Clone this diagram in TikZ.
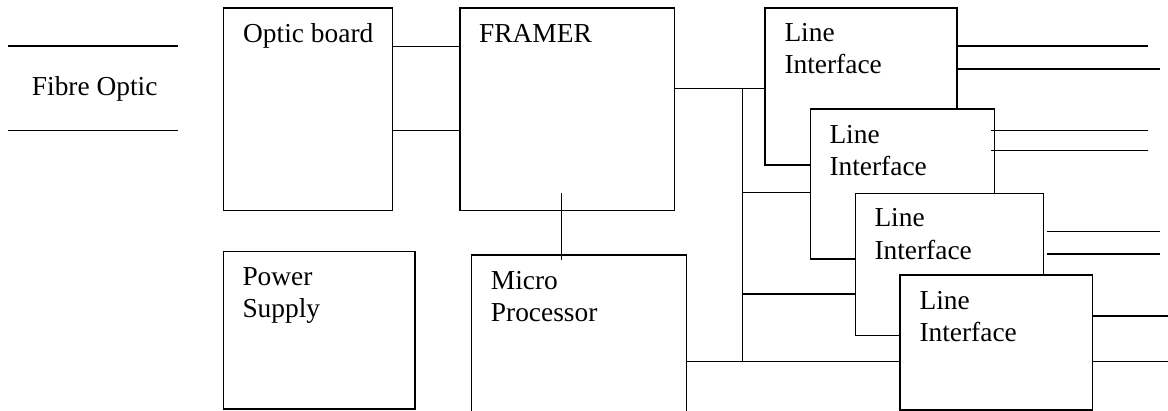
\documentclass[tikz,border=0pt]{standalone}
\usepackage{fontspec}
\setmainfont{Liberation Serif}
\begin{document}
\begin{tikzpicture}[x=1pt,y=-1pt,
  box/.style={draw, line width=1.25pt, fill=white, inner sep=0pt, anchor=north west},
  lbl/.style={font=\fontsize{27.4}{32.5}\selectfont, inner sep=0pt, anchor=base west, align=left},
  wire/.style={line width=1.25pt}]
\useasboundingbox (0,0) rectangle (1168,411);
\clip (0,0) rectangle (1168,411);
% y levels
\coordinate (ya) at (0,46.7);
\coordinate (yb) at (0,130.7);
\coordinate (yc) at (0,88.7);
\coordinate (yd) at (0,192.7);
\coordinate (ye) at (0,294);
\coordinate (yf) at (0,361.7);
% fibre optic
\coordinate (fo1a) at (8.3,46);
\coordinate (fo1b) at (178.3,46);
\coordinate (fo2a) at (8.3,130.3);
\coordinate (fo2b) at (178.3,130.3);
\draw[wire] (fo1a) -- (fo1b);
\draw[wire] (fo2a) -- (fo2b);
\node[lbl] (fot) at (31.7,95.7) {Fibre Optic};
% left boxes
\node[box, minimum width=169pt, minimum height=202.7pt] (ob) at (223,7.3) {};
\node[lbl] (obt) at (243,43) {Optic board};
\node[box, minimum width=214.7pt, minimum height=202.7pt] (fr) at (459.3,7.3) {};
\node[lbl] (frt) at (479,43) {FRAMER};
\node[box, minimum width=191.6pt, minimum height=157.6pt] (ps) at (222.7,250.7) {};
\node[lbl] (pst) at (242.3,317.8) {Power\\Supply};
\node[box, minimum width=214.7pt, minimum height=175pt] (mp) at (471,254.3) {};
\node[lbl] (mpt) at (490.7,321.7) {Micro\\Processor};
\draw[wire] (ob.east |- ya) -- (fr.west |- ya);
\draw[wire] (ob.east |- yb) -- (fr.west |- yb);
\coordinate (fm1) at (561.3,192.7);
\coordinate (fm2) at (561.3,260);
\draw[wire] (fm1) -- (fm2);
% line interfaces
\node[box, minimum width=192pt, minimum height=157pt] (li1) at (764.3,7.3) {};
\node[lbl] (li1t) at (784.3,74) {Line\\Interface};
\coordinate (r1a) at (1148.3,46);
\coordinate (r1b) at (1160,69);
\draw[wire] (li1.east |- r1a) -- (r1a);
\draw[wire] (li1.east |- r1b) -- (r1b);
\node[box, minimum width=184.5pt, minimum height=150pt] (li2) at (809.5,108.3) {};
\node[lbl] (li2t) at (829.3,175.7) {Line\\Interface};
\coordinate (r2a) at (1148.3,130.7);
\coordinate (r2b) at (1148.3,150.7);
\draw[wire] ([xshift=-4pt]li2.east |- r2a) -- (r2a);
\draw[wire] ([xshift=-4pt]li2.east |- r2b) -- (r2b);
\node[box, minimum width=188.2pt, minimum height=142.3pt] (li3) at (854.5,192.7) {};
\node[lbl] (li3t) at (874.3,259.3) {Line\\Interface};
\coordinate (r3a) at (1160,231.7);
\coordinate (r3b) at (1160,254);
\draw[wire] ([xshift=3pt]li3.east |- r3a) -- (r3a);
\draw[wire] ([xshift=3pt]li3.east |- r3b) -- (r3b);
\node[box, minimum width=192.4pt, minimum height=135pt] (li4) at (899.3,274.3) {};
\node[lbl] (li4t) at (919.3,341.7) {Line\\Interface};
\coordinate (r4a) at (1170,316);
\coordinate (r4b) at (1170,361.7);
\draw[wire] (li4.east |- r4a) -- (r4a);
\draw[wire] (li4.east |- r4b) -- (r4b);
% bus
\coordinate (bt) at (742.3,88.7);
\coordinate (bb) at (742.3,361.7);
\draw[wire] (fr.east |- yc) -- (li1.west |- yc);
\draw[wire] (bt) -- (bb);
\draw[wire] (bt |- yd) -- (li2.west |- yd);
\draw[wire] (bt |- ye) -- (li3.west |- ye);
\draw[wire] (mp.east |- yf) -- (li4.west |- yf);
\end{tikzpicture}
\end{document}
